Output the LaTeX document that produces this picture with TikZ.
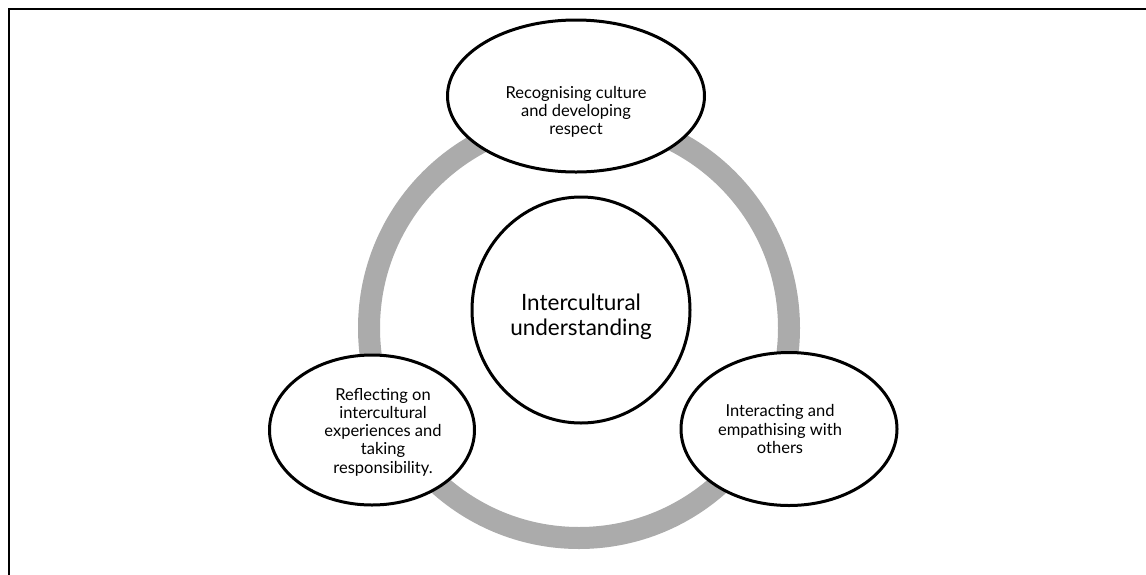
\documentclass[tikz,border=0pt]{standalone}
\usepackage{fontspec}
\setmainfont{Lato}
\usetikzlibrary{shapes.geometric}
\begin{document}
\begin{tikzpicture}[x=1pt,y=-1pt,
  bubble/.style={ellipse,draw=black,line width=3pt,fill=white,inner sep=0pt},
  smalltext/.style={align=center,font=\fontsize{16.5}{18.3}\selectfont},
  bigtext/.style={align=center,font=\fontsize{22.5}{25}\selectfont}]
\useasboundingbox (0,0) rectangle (1146,574);
% frame (right and bottom edges fall outside the picture)
\draw[line width=2.5pt] (9,580) -- (9,9) -- (1150,9);
% grey ring
\draw[line width=22pt,color={rgb,255:red,171;green,171;blue,171}] (579,328) circle[radius=210];
% center circle
\node[bubble,minimum width=218pt,minimum height=226pt] (c) at (581,310) {};
\node[bigtext] (ct) at (581,317) {Intercultural\\understanding};
% outer ellipses
\node[bubble,minimum width=257pt,minimum height=152pt] (t) at (576,96) {};
\node[smalltext] (tt) at (576,112) {Recognising culture\\and developing\\respect};
\node[bubble,minimum width=205pt,minimum height=150pt] (l) at (372,430) {};
\node[smalltext] (lt) at (383,432) {Reflecting on\\intercultural\\experiences and\\taking\\responsibility.};
\node[bubble,minimum width=216pt,minimum height=153pt] (r) at (789,429) {};
\node[smalltext] (rt) at (780,429) {Interacting and\\empathising with\\others};
\end{tikzpicture}
\end{document}
